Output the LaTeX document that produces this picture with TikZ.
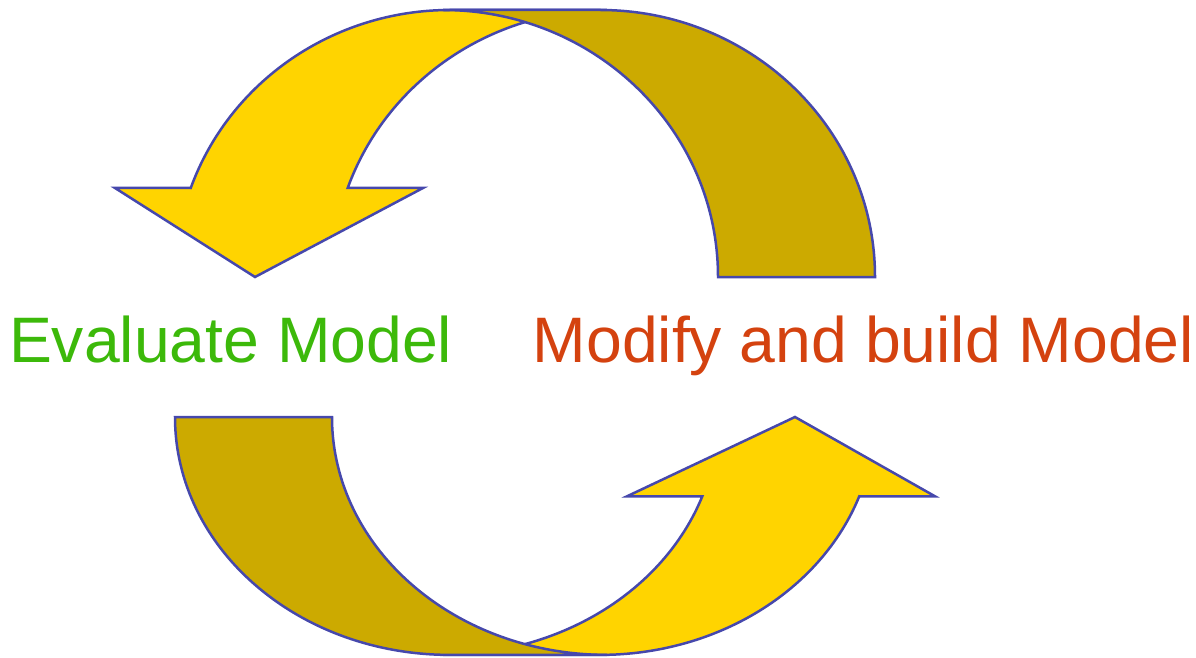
\documentclass[tikz,border=0pt]{standalone}
\usepackage{fontspec}
\setmainfont{Liberation Sans}
\definecolor{edge}{RGB}{70,72,172}
\definecolor{yfront}{RGB}{255,212,0}
\definecolor{yback}{RGB}{204,170,0}
\definecolor{evalgreen}{RGB}{60,185,10}
\definecolor{modred}{RGB}{212,66,15}
\tikzset{
  frontband/.style={fill=yfront,draw=edge,line width=2.5pt},
  backband/.style={fill=yback,draw=edge,line width=2.5pt},
  label/.style={inner sep=0pt,anchor=base west,font=\fontsize{64.3}{70}\selectfont},
}
\newcommand\mycyclearrow{%
    \path[frontband] (-334.3,89) -- (-410,89) -- (-270,0) -- (-102,89) -- (-177.3,89)
      arc[start angle=160.53,end angle=90,x radius=275,y radius=267]
      -- (-75,267)
      arc[start angle=90,end angle=160.53,x radius=275,y radius=267] -- cycle;
    \path[backband] (193,0) -- (350,0)
      arc[start angle=0,end angle=90,x radius=275,y radius=267]
      -- (-82,267)
      arc[start angle=90,end angle=0,x radius=275,y radius=267] -- cycle;
}
\begin{document}
\begin{tikzpicture}[x=1pt,y=1pt]
\useasboundingbox (0,0) rectangle (1196,657);
\begin{scope}[shift={(525,380)}]
\mycyclearrow
\end{scope}
\begin{scope}[shift={(525,240)},rotate=180,yscale=0.891]
\mycyclearrow
\end{scope}
\node[label,text=evalgreen] (eval) at (8.9,295) {Evaluate Model};
\node[label,text=modred] (modify) at (532.5,295) {Modify and build Model};
\end{tikzpicture}
\end{document}
